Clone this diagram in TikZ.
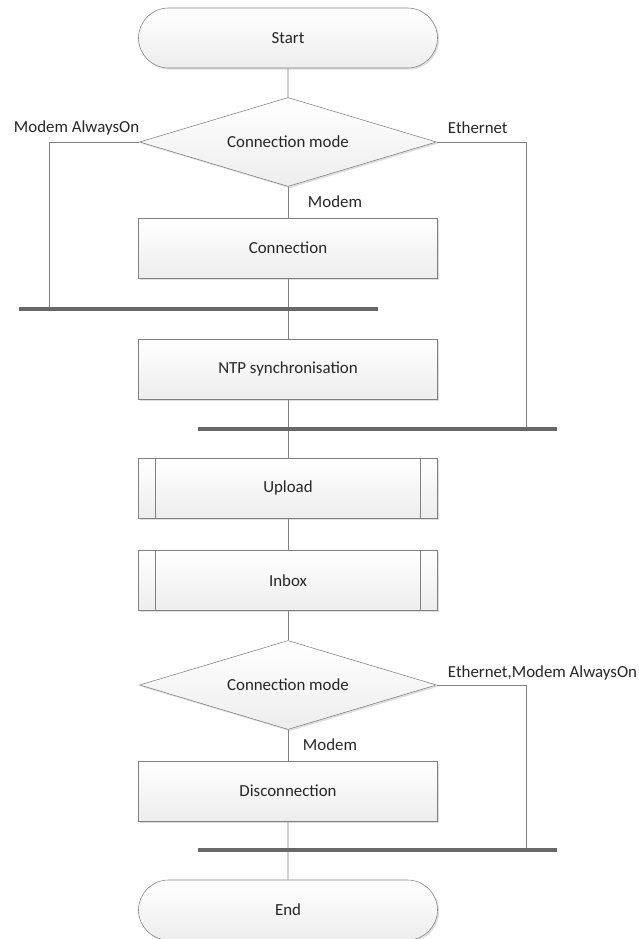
\documentclass[tikz,border=0pt]{standalone}
\usepackage{fontspec}
\setmainfont{Carlito}
\usetikzlibrary{shapes.geometric,shapes.misc,shadows}
\definecolor{linegray}{HTML}{808080}
\definecolor{busgray}{HTML}{686868}
\tikzset{
    every node/.style={font=\fontsize{12}{14}\selectfont,text=black!85},
    boxfill/.style={draw=linegray,top color=white,bottom color=gray!14,
        drop shadow={shadow xshift=1.2pt,shadow yshift=-1.2pt,fill=gray!25,opacity=1}},
    procbox/.style={boxfill,rectangle,minimum width=7.475cm,minimum height=1.5cm,inner sep=0pt},
    subbox/.style={procbox,path picture={
        \draw [linegray] ([xshift=0.425cm]path picture bounding box.north west) -- ([xshift=0.425cm]path picture bounding box.south west);
        \draw [linegray] ([xshift=-0.425cm]path picture bounding box.north east) -- ([xshift=-0.425cm]path picture bounding box.south east);}},
    termbox/.style={boxfill,rounded rectangle,minimum width=7.475cm,minimum height=1.5cm,inner sep=0pt},
    decbox/.style={boxfill,diamond,aspect=3.34,minimum width=7.425cm,minimum height=2.225cm,inner sep=0pt},
    flow/.style={draw=linegray,line width=0.6pt},
    bus/.style={draw=busgray,line width=2.2pt}
}
\begin{document}
\begin{tikzpicture}
            \useasboundingbox (0,0) rectangle (15.975,-23.475);
            % nodes
            \node [termbox] (start) at (7.2,-0.95) {Start};
            \node [decbox] (mode1) at (7.2,-3.55) {Connection mode};
            \node [procbox] (conn) at (7.2,-6.2) {Connection};
            \node [procbox] (ntp) at (7.2,-9.225) {NTP synchronisation};
            \node [subbox] (upload) at (7.2,-12.2) {Upload};
            \node [subbox] (inbox) at (7.2,-14.51) {Inbox};
            \node [decbox] (mode2) at (7.2,-17.125) {Connection mode};
            \node [procbox] (disc) at (7.2,-19.775) {Disconnection};
            \node [termbox] (end) at (7.2,-22.75) {End};
            % bus ends
            \coordinate (bus1w) at (0.475,-7.725);
            \coordinate (bus1e) at (9.45,-7.725);
            \coordinate (bus2w) at (4.95,-10.725);
            \coordinate (bus2e) at (13.925,-10.725);
            \coordinate (bus3w) at (4.95,-21.25);
            \coordinate (bus3e) at (13.925,-21.25);
            \coordinate (left1) at (1.225,-7.725);
            \coordinate (right1) at (13.15,-10.725);
            \coordinate (right2) at (13.15,-21.25);
            % connectors
            \draw [flow] (start) -- (mode1);
            \draw [flow] (mode1) -- (conn);
            \draw [flow] (conn) -- (ntp);
            \draw [flow] (ntp) -- (upload);
            \draw [flow] (upload) -- (inbox);
            \draw [flow] (inbox) -- (mode2);
            \draw [flow] (mode2) -- (disc);
            \draw [flow] (disc) -- (end);
            \draw [flow] (mode1.west) -| (left1);
            \draw [flow] (mode1.east) -| (right1);
            \draw [flow] (mode2.east) -| (right2);
            \draw [bus] (bus1w) -- (bus1e);
            \draw [bus] (bus2w) -- (bus2e);
            \draw [bus] (bus3w) -- (bus3e);
            % labels
            \node [anchor=west] at (0.225,-3.2) {Modem AlwaysOn};
            \node [anchor=west] at (11.075,-3.2) {Ethernet};
            \node [anchor=west] at (7.575,-5.05) {Modem};
            \node [anchor=west] at (11.075,-16.825) {Ethernet,Modem AlwaysOn};
            \node [anchor=west] at (7.45,-18.625) {Modem};
        \end{tikzpicture}
\end{document}
